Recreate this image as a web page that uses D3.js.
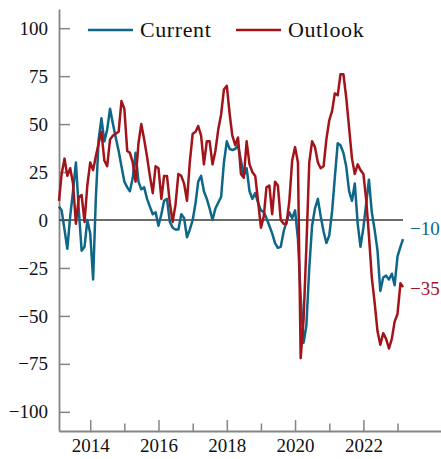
<!DOCTYPE html>
<html>
<head>
<meta charset="utf-8">
<script src="https://cdn.jsdelivr.net/npm/d3@7"></script>
<style>
  html, body { margin: 0; padding: 0; background: #fff; }
  svg { display: block; }
  text { font-family: "Liberation Serif", "DejaVu Serif", serif; fill: #111; }
</style>
</head>
<body>
<svg id="chart" width="441" height="459"></svg>
<script>
// ---- Data (monthly, Feb 2013 – Mar 2023) ----
const startMonth = "2013-02";
const current = [
  7, 5, -5, -15, 2, 15, 30, 5, -16, -14, 0,
  -7, -31, 10, 42, 53, 41, 47, 58, 50, 43, 36, 28,
  20, 17, 15, 22, 35, 20, 16, 17, 11, 7, 3, 4,
  -3, 3, 10, 11, -1, -4, -5, -5, 3, 1, -9, -5,
  0, 9, 20, 23, 15, 11, 6, 0, 6, 9, 12, 30,
  41, 37, 36.5, 37, 39, 31, 23, 27, 15, 11, 14, 9,
  5, 4, 1, -3, -7, -12, -14.5, -14, -6, -1, 4, 1,
  5, -10, -40, -64, -55, -25, -3, 6, 11, 2, -6, -12,
  -8, 5, 22, 40, 39, 35, 28, 15, 10, 19, -2, -14,
  -4, 9, 21, 4, -5, -16, -37, -30, -29, -31, -28, -34,
  -19, -14, -10
];
const outlook = [
  10, 24, 32, 23, 27, 19, -2, 12, 13, -1, 18,
  30, 26, 33, 40, 46, 31, 28, 42, 44, 45, 46, 62,
  58, 36, 35, 30, 20, 40, 50, 42, 33, 23, 14, 28,
  27, 11, 23, 23, 9, -1, 8, 24, 23, 19, 10, 30,
  45, 46, 49, 44, 29, 41, 41, 29, 36, 47, 55, 68,
  70, 55, 44, 39, 43, 24, 22, 41, 29, 25, 23, 10,
  -4, 2, 17, 18, 3, 20, 18, 0, -2, -2, 10, 31,
  38, 30, -72, -52, -14, 30, 41, 38, 30, 27, 28, 42,
  52, 57, 66, 65, 76, 76, 64, 48, 32, 24, 29, 26,
  24, 10, -8, -30, -43, -58, -65, -59, -62, -67, -62, -53,
  -49, -33, -35
];
const seriesNames = ["Current", "Outlook"];
const seriesColors = ["#0e6688", "#a3131a"];
const yTicks = [-100, -75, -50, -25, 0, 25, 50, 75, 100];
const xMajorYears = [2014, 2016, 2018, 2020, 2022];
const xMinorYears = [2015, 2017, 2019, 2021, 2023];
const endLabels = ["−10", "−35"];
const endLabelNudge = [-11, 1];

// ---- Build dates ----
const parse = d3.timeParse("%Y-%m");
const t0 = parse(startMonth);
const dates = current.map((_, i) => d3.timeMonth.offset(t0, i));

// ---- Scales ----
const svg = d3.select("#chart");
const x = d3.scaleTime()
  .domain([new Date(2013, 1, 1), new Date(2024, 3, 10)])
  .range([59, 441]);
const y = d3.scaleLinear().domain([-110, 110]).range([431, 9]);

const axisColor = "#858585";

// ---- Y axis ----
const yAxis = svg.append("g")
  .attr("transform", "translate(59,0)")
  .call(d3.axisLeft(y).tickValues(yTicks).tickSizeInner(-11).tickSizeOuter(0).tickPadding(11)
    .tickFormat(d => d3.format("")(d)));
yAxis.select(".domain").attr("stroke", axisColor).attr("stroke-width", 1.8);
yAxis.selectAll(".tick line").attr("stroke", axisColor).attr("stroke-width", 1.5);
yAxis.selectAll(".tick text").attr("font-size", 19).attr("font-family", "Liberation Serif").attr("fill", "#111");

// ---- X axis (major + minor) ----
const xAxis = svg.append("g")
  .attr("transform", "translate(0,431)")
  .call(d3.axisBottom(x).tickValues(xMajorYears.map(yr => new Date(yr, 0, 1)))
    .tickSizeInner(-11).tickSizeOuter(0).tickPadding(8).tickFormat(d3.timeFormat("%Y")));
xAxis.select(".domain").attr("stroke", axisColor).attr("stroke-width", 1.8);
xAxis.selectAll(".tick line").attr("stroke", axisColor).attr("stroke-width", 1.5);
xAxis.selectAll(".tick text").attr("font-size", 19).attr("font-family", "Liberation Serif").attr("fill", "#111");

const xMinor = svg.append("g")
  .attr("transform", "translate(0,431)")
  .call(d3.axisBottom(x).tickValues(xMinorYears.map(yr => new Date(yr, 0, 1)))
    .tickSizeInner(-7.5).tickSizeOuter(0).tickFormat(""));
xMinor.select(".domain").remove();
xMinor.selectAll(".tick line").attr("stroke", axisColor).attr("stroke-width", 1.5);

// ---- Zero line ----
svg.append("line")
  .attr("x1", x(dates[0])).attr("x2", x(dates[dates.length - 1]))
  .attr("y1", y(0)).attr("y2", y(0))
  .attr("stroke", "#3a3a3a").attr("stroke-width", 1.5);

// ---- Lines ----
const line = d3.line().x((d, i) => x(dates[i])).y(d => y(d));
[current, outlook].forEach((vals, k) => {
  svg.append("path")
    .datum(vals)
    .attr("fill", "none")
    .attr("stroke", seriesColors[k])
    .attr("stroke-width", 2.5)
    .attr("stroke-linejoin", "round")
    .attr("d", line);
});

// ---- End labels ----
[current, outlook].forEach((vals, k) => {
  const last = vals[vals.length - 1];
  svg.append("text")
    .attr("x", x(dates[dates.length - 1]) + 7)
    .attr("y", y(last) + endLabelNudge[k])
    .attr("dy", "0.35em")
    .attr("font-size", 19)
    .attr("fill", seriesColors[k])
    .style("fill", seriesColors[k])
    .text(endLabels[k]);
});

// ---- Legend ----
const legendX = [88, 236];
seriesNames.forEach((name, k) => {
  const g = svg.append("g").attr("transform", `translate(${legendX[k]},30)`);
  g.append("line").attr("x1", 0).attr("x2", 45).attr("y1", 0).attr("y2", 0)
    .attr("stroke", seriesColors[k]).attr("stroke-width", 2.5);
  g.append("text").attr("x", 52).attr("y", 0).attr("dy", "0.33em")
    .attr("font-size", 22).attr("letter-spacing", "0.6px").text(name);
});
</script>
</body>
</html>
